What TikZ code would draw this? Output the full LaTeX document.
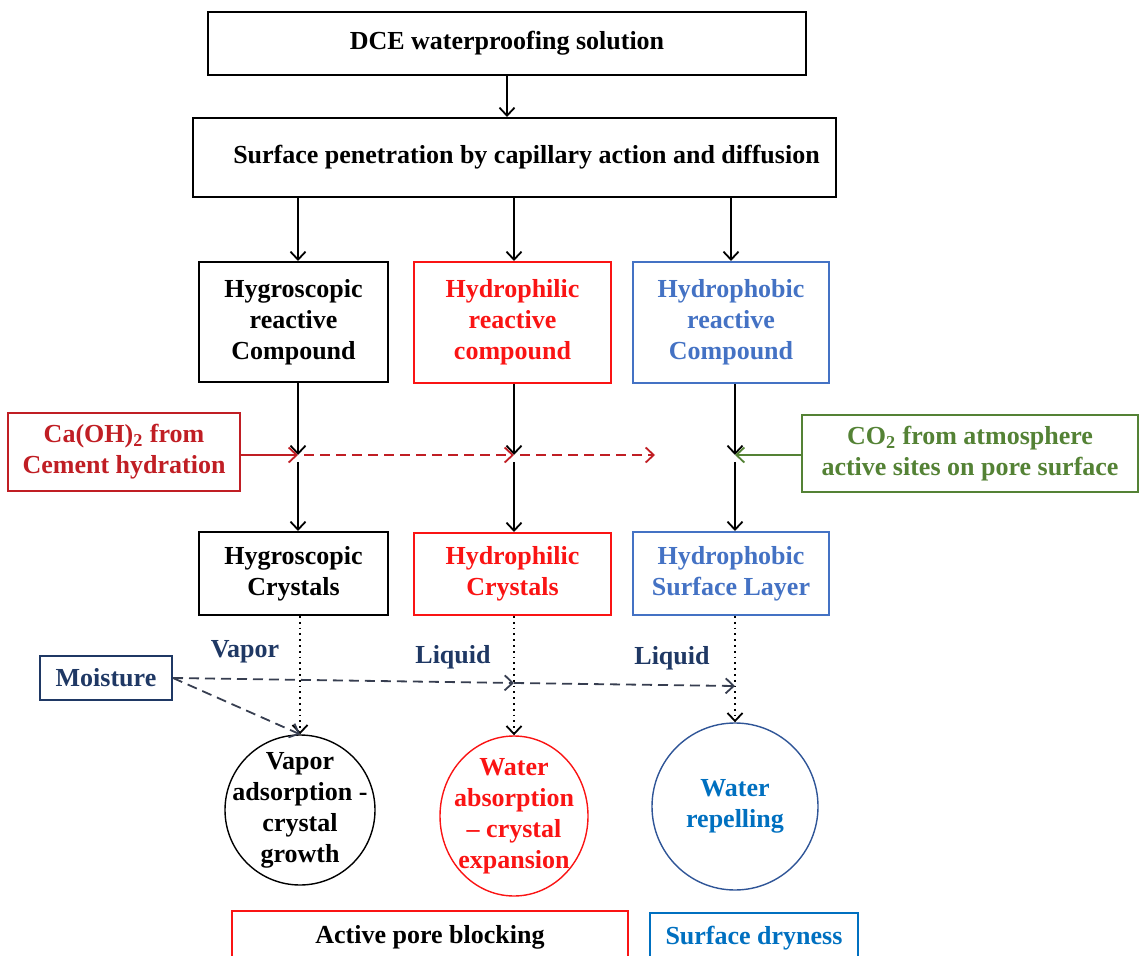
\documentclass[tikz,border=0pt]{standalone}
\usepackage{fontspec}
\setmainfont{Liberation Serif}
\usetikzlibrary{shapes.geometric,arrows.meta}

\definecolor{darkred}{RGB}{192,30,36}
\definecolor{brightred}{RGB}{250,20,20}
\definecolor{hblue}{RGB}{68,114,196}
\definecolor{cblue}{RGB}{47,85,151}
\definecolor{wblue}{RGB}{0,112,192}
\definecolor{leaf}{RGB}{84,130,53}
\definecolor{navy}{RGB}{31,56,100}
\definecolor{slate}{RGB}{55,62,80}

\begin{document}
\begin{tikzpicture}[x=0.5pt, y=-0.5pt,
        >={Straight Barb[length=4pt, width=7.5pt, line width=0.9pt]},
        txt/.style={font=\bfseries\fontsize{13}{15.5}\selectfont, align=center},
        box/.style={txt, draw, line width=1pt, inner sep=0pt},
        blob/.style={txt, draw, ellipse, line width=0.7pt, inner sep=-8.5pt},
        flow/.style={->, line width=0.9pt},
        longdash/.style={dash pattern=on 5pt off 3pt}]
        \useasboundingbox (0,0) rectangle (1139,956);

        % Draw the two top boxes
        \node[box, minimum width=299pt, minimum height=31.5pt] (dce) at (507,43.5) {DCE waterproofing solution};
        \node[box, minimum width=321.5pt, minimum height=39.5pt] (pen) at (514.5,157.5) {\hspace{12pt}Surface penetration by capillary action and diffusion};

        % Draw the reactive compounds
        \node[box, minimum width=94.5pt, minimum height=60pt] (hgc) at (293.5,322) {Hygroscopic\\reactive\\Compound};
        \node[box, brightred, minimum width=98.5pt, minimum height=60.5pt] (hpc) at (512.5,322.5) {Hydrophilic\\reactive\\compound};
        \node[box, hblue, minimum width=98pt, minimum height=60.5pt] (hbc) at (731,322.5) {Hydrophobic\\reactive\\Compound};

        % Draw the side inputs
        \node[box, darkred, minimum width=116pt, minimum height=38.5pt] (caoh) at (124,452) {Ca(OH)\textsubscript{2} from\\Cement hydration};
        \node[box, leaf, minimum width=168pt, minimum height=38.5pt] (co2) at (970,453.5) {CO\textsubscript{2} from atmosphere\\active sites on pore surface};
        \coordinate (j1) at (298,455);
        \coordinate (j2) at (514,455);
        \coordinate (j3) at (735,455);
        \coordinate (dead) at (655,455);

        % Draw the products
        \node[box, minimum width=94.5pt, minimum height=41.5pt] (hgx) at (293.5,573.5) {Hygroscopic\\Crystals};
        \node[box, brightred, minimum width=98.5pt, minimum height=41pt] (hpx) at (512.5,574) {Hydrophilic\\Crystals};
        \node[box, hblue, minimum width=98pt, minimum height=41.5pt] (hbx) at (731,573.5) {Hydrophobic\\Surface Layer};

        % Draw moisture and its paths
        \node[box, navy, minimum width=66pt, minimum height=22pt] (moist) at (106,678) {Moisture};
        \node[txt, navy] (vap) at (245,652) {Vapor};
        \node[txt, navy] (liq1) at (453,657) {Liquid};
        \node[txt, navy] (liq2) at (672,658) {Liquid};
        \coordinate (m2) at (514,683);
        \coordinate (m3) at (735,686);

        % Draw the effects
        \node[blob, minimum width=75pt, minimum height=75pt] (c1) at (300,810) {Vapor\\adsorption -\\crystal\\growth};
        \node[blob, brightred, minimum width=74pt, minimum height=80pt] (c2) at (514,816) {Water\\absorption\\-- crystal\\expansion};
        \node[blob, cblue, text=wblue, minimum width=83pt, minimum height=83.5pt] (c3) at (735,806.5) {Water\\repelling};

        % Draw the outcomes
        \node[box, brightred, text=black, line width=0.8pt, minimum width=198pt, minimum height=26pt] (apb) at (430,937) {Active pore blocking};
        \node[box, wblue, line width=0.8pt, minimum width=104pt, minimum height=25pt] (sdr) at (754,938) {Surface dryness};

        % Draw the arrows
        \draw[flow] (dce.south) -- (dce.south |- pen.north);
        \draw[flow] (pen.south -| j1) -- (hgc.north -| j1);
        \draw[flow] (pen.south -| j2) -- (hpc.north -| j2);
        \draw[flow] (pen.south -| hbc) -- (hbc.north);
        \draw[flow] (hgc.south -| j1) -- (j1);
        \draw[flow] (hpc.south -| j2) -- (j2);
        \draw[flow] (hbc.south -| j3) -- (j3);
        \draw[flow, shorten <=3.5pt] (j1) -- (hgx.north -| j1);
        \draw[flow, shorten <=3.5pt] (j2) -- (hpx.north -| j2);
        \draw[flow, shorten <=3.5pt] (j3) -- (hbx.north -| j3);
        \draw[flow, darkred] (caoh.east |- j1) -- (j1);
        \draw[flow, darkred, longdash, shorten <=3pt] (j1) -- (j2);
        \draw[flow, darkred, longdash, shorten <=3pt] (j2) -- (dead);
        \draw[flow, leaf] (co2.west |- j3) -- (j3);

        \draw[flow, dotted] (c1.north |- hgx.south) -- (c1.north);
        \draw[flow, dotted] (c2.north |- hpx.south) -- (c2.north);
        \draw[flow, dotted] (c3.north |- hbx.south) -- (c3.north);
        \draw[flow, slate, longdash] (moist.east) -- (m2);
        \draw[flow, slate, longdash] (m2) -- (m3);
        \draw[flow, slate, longdash] (moist.east) -- (c1.north);
    \end{tikzpicture}
\end{document}
